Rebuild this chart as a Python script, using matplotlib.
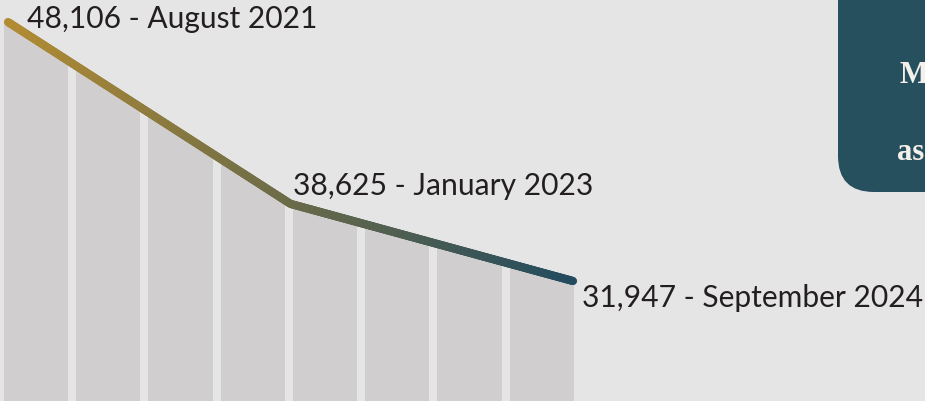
import numpy as np
import matplotlib
matplotlib.use('Agg')
import matplotlib.pyplot as plt
from matplotlib.collections import LineCollection
from matplotlib.colors import LinearSegmentedColormap
from matplotlib.patches import FancyBboxPatch

# data
periods = ['August 2021', 'January 2023', 'September 2024']
values = [48106, 38625, 31947]
positions = [0, 1, 2]

# colours
BG = '#e5e5e5'
BAR = '#d0cecf'
GOLD = '#b38c33'
TEAL = '#234b5e'
BOX = '#27505f'
TXT = '#231f20'

# the vertical scale of the original is not linear, a signed power scale gets close
POW = 3.45


def fwd(v):
    return np.sign(v) * np.power(np.abs(v), POW)


def inv(u):
    return np.sign(u) * np.power(np.abs(u), 1 / POW)


fig = plt.figure(figsize=(9.25, 4.02), dpi=100)
fig.patch.set_facecolor(BG)
ax = fig.add_axes([0, 0, 1, 1])
ax.set_facecolor(BG)
ax.set_yscale('function', functions=(fwd, inv))
ax.set_xlim(-0.0283, 3.246)
ax.set_ylim(-25158, 49023)
ax.axis('off')
y_bot = ax.get_ylim()[0]

# area under the line, used to clip the columns
x_ext = [-0.015] + positions + [2.004]
y_ext = [values[0]] + values + [values[-1]]
area = ax.fill_between(x_ext, y_ext, y_bot, color='none', lw=0)
clip = area.get_paths()[0]

# 8 grey columns under the line
gap = 8 / 282.5
edges = np.linspace(-0.0142, 2.0035 + gap, 9)
bars = ax.bar(edges[:-1], ax.get_ylim()[1] - y_bot, bottom=y_bot,
              width=(edges[1] - edges[0]) - gap,
              align='edge', color=BAR, lw=0)
for b in bars:
    b.set_clip_path(clip, ax.transData)

# gradient line gold -> teal
xs = np.linspace(positions[0], positions[-1], 400)
us = np.interp(xs, positions, fwd(np.array(values, dtype=float)))
ys = inv(us)
pts = np.column_stack([xs, ys]).reshape(-1, 1, 2)
segs = np.concatenate([pts[:-1], pts[1:]], axis=1)
cmap = LinearSegmentedColormap.from_list('gt', [GOLD, TEAL])
lc = LineCollection(segs, cmap=cmap, linewidth=5.9, capstyle='round')
lc.set_array(xs[:-1] / positions[-1])
ax.add_collection(lc)

# labels
offsets = [(19, -5), (3, 10), (9, -25)]
for x, v, p, off in zip(positions, values, periods, offsets):
    ax.annotate(f'{v:,} - {p}', (x, v), xytext=off, textcoords='offset pixels',
                ha='left', va='baseline', fontsize=21.6, family='Lato', color=TXT)

# dark box in the top right corner (cut off)
box = FancyBboxPatch((8.38, 2.09), 2.0, 3.0, boxstyle='round,pad=0,rounding_size=0.36',
                     transform=fig.dpi_scale_trans, facecolor=BOX, edgecolor='none')
fig.patches.append(box)
fig.text(900 / 925, 1 - 83 / 402, 'M', ha='left', va='baseline', fontsize=22,
         family='Liberation Serif', weight='bold', color='#f4f1ea')
fig.text(897 / 925, 1 - 160 / 402, 'as', ha='left', va='baseline', fontsize=22,
         family='Liberation Serif', weight='bold', color='#f4f1ea')

fig.savefig('out.png', dpi=100, facecolor=BG)
